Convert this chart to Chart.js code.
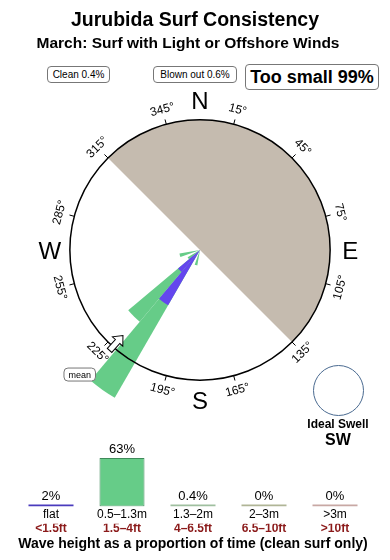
<!DOCTYPE html>
<html><head><meta charset="utf-8">
<script src="https://cdn.jsdelivr.net/npm/chart.js@4"></script>
<style>
html,body{margin:0;padding:0;background:#fff;}
body{width:390px;height:560px;position:relative;overflow:hidden;font-family:"Liberation Sans",Arial,sans-serif;color:#000;}
.abs{position:absolute;}
#title{left:0;width:390px;top:8px;text-align:center;font-weight:bold;font-size:19.5px;line-height:23px;}
#sub{left:-7px;width:390px;top:34px;text-align:center;font-weight:bold;font-size:15.5px;line-height:18px;}
.box{position:absolute;border:1px solid #777;border-radius:4px;box-sizing:border-box;text-align:center;white-space:nowrap;background:#fff;}
#clean{left:47px;top:66px;width:63px;height:17px;font-size:10px;line-height:15px;}
#blown{left:153px;top:66px;width:84px;height:17px;font-size:10px;line-height:15px;}
#small{left:245px;top:64px;width:134px;height:26px;font-size:18px;font-weight:bold;line-height:24px;}
#rose{left:0;top:0;}
#bars{left:0;top:430px;}
#ideal{left:313px;top:365px;width:51px;height:51px;border:1px solid #4a6a90;border-radius:50%;box-sizing:border-box;}
#idealLbl{left:288px;width:100px;top:417px;text-align:center;font-weight:bold;font-size:12px;line-height:15px;}
#idealDir{left:288px;width:100px;top:431px;text-align:center;font-weight:bold;font-size:16px;line-height:18px;}
</style>
</head><body>
<canvas id="rose" class="abs" width="390" height="500"></canvas>
<canvas id="bars" class="abs" width="390" height="130"></canvas>
<div id="title" class="abs">Jurubida Surf Consistency</div>
<div id="sub" class="abs">March: Surf with Light or Offshore Winds</div>
<div id="clean" class="box">Clean 0.4%</div>
<div id="blown" class="box">Blown out 0.6%</div>
<div id="small" class="box">Too small 99%</div>
<div id="ideal" class="abs"></div>
<div id="idealLbl" class="abs">Ideal Swell</div>
<div id="idealDir" class="abs">SW</div>
<script>
// ---------- DATA ----------
// 10-degree direction bins (bearing of bin start)
const directionBins = Array.from({length: 36}, (_, i) => (i * 10) + '°');
// relative frequency per bin (circle = 100)
const flatFreq  = [0,0,0,0,0,0,0,0,0,0, 0,0,0,0,0,0,0,0,0,0, 0,49,22,0,0,0,0,0,0,0, 0,0,0,0,0,0];
const smallFreq = [0,0,0,0,0,0,0,0,0,0, 0,0,0,0,0,0,0,0,0,12, 0,82,50,11,0,16,0,0,0,0, 0,0,0,0,0,0];
const circleValue = 100;
const roseMax = 146;
const landSector = [315, 135];
const compassTicks = [15,45,75,105,135,165,195,225,255,285,315,345];
const compassLetters = ['N','E','S','W'];
const compassLetterBearings = [0,90,180,270];
const meanDirection = 222;

const waveCats = ['flat','0.5–1.3m','1.3–2m','2–3m','>3m'];
const waveFt   = ['<1.5ft','1.5–4ft','4–6.5ft','6.5–10ft','>10ft'];
const wavePct  = [2, 63, 0.4, 0, 0];

// ---------- STYLE ----------
const FONT = '"Liberation Sans", Arial, sans-serif';
const BLUE = '#6446ee';
const GREEN = '#66cc88';
const barColors  = ['#4a3bbd', GREEN, '#9fbf9f', '#b0b596', '#c8a8a4'];
const barBorders = ['#4a3bbd', '#3f8a5a', '#9fbf9f', '#b0b596', '#c8a8a4'];

const totalFreq = flatFreq.map((v, i) => v + smallFreq[i]);

const ang = b => (b - 90) * Math.PI / 180;

const rosePlugin = {
  id: 'rose',
  beforeDatasetsDraw(chart) {
    const s = chart.scales.r, ctx = chart.ctx;
    const cx = s.xCenter, cy = s.yCenter, R = s.getDistanceFromCenterForValue(circleValue);
    ctx.save();
    ctx.beginPath();
    ctx.moveTo(cx, cy);
    ctx.arc(cx, cy, R, ang(landSector[0]), ang(landSector[1]));
    ctx.closePath();
    ctx.fillStyle = '#c5bbaf';
    ctx.fill();
    ctx.restore();
  },
  afterDatasetsDraw(chart) {
    const s = chart.scales.r, ctx = chart.ctx;
    const cx = s.xCenter, cy = s.yCenter, R = s.getDistanceFromCenterForValue(circleValue);
    const pt = (b, r) => [cx + r * Math.sin(b * Math.PI / 180), cy - r * Math.cos(b * Math.PI / 180)];
    ctx.save();
    ctx.beginPath();
    ctx.arc(cx, cy, R, 0, Math.PI * 2);
    ctx.strokeStyle = '#000';
    ctx.lineWidth = 1.5;
    ctx.stroke();
    // ticks + labels
    ctx.lineWidth = 1;
    ctx.fillStyle = '#000';
    ctx.font = '12px ' + FONT;
    ctx.textAlign = 'center';
    ctx.textBaseline = 'middle';
    compassTicks.forEach(b => {
      const [x1, y1] = pt(b, R), [x2, y2] = pt(b, R + 5);
      ctx.beginPath(); ctx.moveTo(x1, y1); ctx.lineTo(x2, y2); ctx.stroke();
      const [lx, ly] = pt(b, R + 15);
      const rot = ((b + 90) % 180) - 90;
      ctx.save();
      ctx.translate(lx, ly);
      ctx.rotate(rot * Math.PI / 180);
      ctx.fillText(b + '°', 0, 0);
      ctx.restore();
    });
    // letters
    ctx.font = '24px ' + FONT;
    compassLetters.forEach((L, i) => {
      const [x, y] = pt(compassLetterBearings[i], R + 20);
      ctx.fillText(L, x, y + 2.5);
    });
    // mean arrow
    const [ax, ay] = pt(meanDirection, R - 5);
    ctx.save();
    ctx.translate(ax, ay);
    ctx.rotate(ang(meanDirection + 180));
    ctx.beginPath();
    const poly = [[-10,-3],[2,-3],[2,-7],[10,0],[2,7],[2,3],[-10,3]];
    poly.forEach(([x, y], i) => i ? ctx.lineTo(x, y) : ctx.moveTo(x, y));
    ctx.closePath();
    ctx.fillStyle = '#fff';
    ctx.fill();
    ctx.strokeStyle = '#000';
    ctx.lineWidth = 1;
    ctx.stroke();
    ctx.restore();
    // mean label
    const [mx, my] = pt(meanDirection + 2, R + 43);
    ctx.font = '9px ' + FONT;
    const w = ctx.measureText('mean').width + 9, h = 13;
    ctx.beginPath();
    ctx.roundRect(mx - w / 2, my - h / 2, w, h, 4);
    ctx.fillStyle = '#fff';
    ctx.fill();
    ctx.strokeStyle = '#777';
    ctx.stroke();
    ctx.fillStyle = '#000';
    ctx.fillText('mean', mx, my + 0.5);
    ctx.restore();
  }
};

new Chart(document.getElementById('rose'), {
  type: 'polarArea',
  data: {
    labels: directionBins,
    datasets: [
      { label: 'flat', data: flatFreq, backgroundColor: BLUE, borderWidth: 0 },
      { label: '0.5–1.3m', data: totalFreq, backgroundColor: GREEN, borderWidth: 0 }
    ]
  },
  options: {
    responsive: false,
    animation: false,
    layout: { padding: { left: 10, right: 0, top: 0, bottom: 0 } },
    plugins: { legend: { display: false }, tooltip: { enabled: false } },
    events: [],
    scales: {
      r: {
        min: 0, max: roseMax, startAngle: 0,
        ticks: { display: false },
        grid: { display: false },
        angleLines: { display: false },
        pointLabels: { display: false }
      }
    }
  },
  plugins: [rosePlugin]
});

const valuePlugin = {
  id: 'vals',
  afterDatasetsDraw(chart) {
    const ctx = chart.ctx, meta = chart.getDatasetMeta(0);
    ctx.save();
    ctx.font = '13px ' + FONT;
    ctx.fillStyle = '#000';
    ctx.textAlign = 'center';
    ctx.textBaseline = 'alphabetic';
    meta.data.forEach((bar, i) => {
      ctx.fillText(wavePct[i] + '%', bar.x, bar.y - 5);
    });
    ctx.restore();
  }
};

new Chart(document.getElementById('bars'), {
  type: 'bar',
  data: {
    labels: waveCats,
    datasets: [{
      data: wavePct,
      backgroundColor: barColors,
      borderColor: barBorders,
      borderWidth: [0, 1, 0, 0, 0],
      borderSkipped: false,
      minBarLength: 2,
      barPercentage: 0.634,
      categoryPercentage: 1
    }]
  },
  options: {
    responsive: false,
    animation: false,
    events: [],
    layout: { padding: { left: 15.5, right: 19.5, top: 22.6, bottom: 0 } },
    plugins: { legend: { display: false }, tooltip: { enabled: false } },
    scales: {
      x: {
        weight: 0,
        grid: { display: false, drawTicks: false },
        border: { display: false },
        ticks: { padding: 2, color: '#000', maxRotation: 0, font: { family: FONT, size: 12, lineHeight: 1.1 } }
      },
      x2: {
        type: 'category', labels: waveFt, position: 'bottom', offset: true, weight: 1,
        grid: { display: false, drawTicks: false },
        border: { display: false },
        ticks: { padding: -2, color: '#8b1a1a', maxRotation: 0, font: { family: FONT, size: 12, weight: 'bold', lineHeight: 1.2 } },
        title: {
          display: true, text: 'Wave height as a proportion of time (clean surf only)', color: '#000',
          font: { family: FONT, size: 14, weight: 'bold', lineHeight: 1.2 },
          padding: { top: 1.5, bottom: 7.6 }
        }
      },
      y: { display: false, min: 0, max: 70 }
    }
  },
  plugins: [valuePlugin]
});
</script>
</body></html>
